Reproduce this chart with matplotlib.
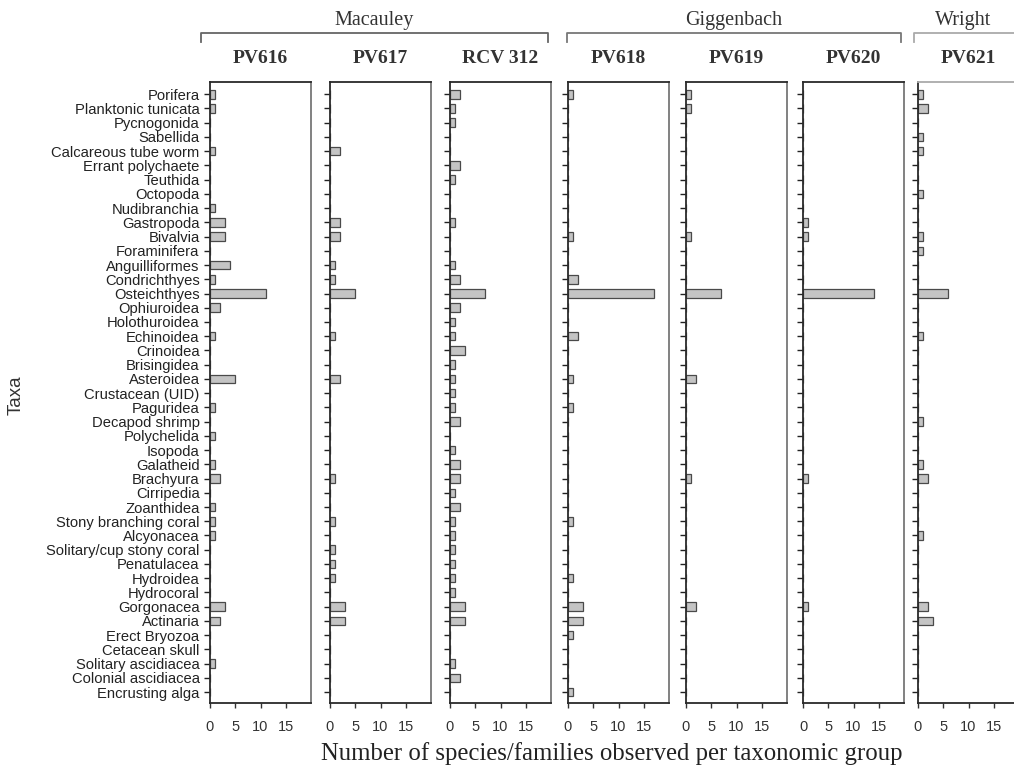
import numpy as np
import matplotlib
matplotlib.use('Agg')
import matplotlib.pyplot as plt
from matplotlib.lines import Line2D

taxa = ['Porifera', 'Planktonic tunicata', 'Pycnogonida', 'Sabellida',
        'Calcareous tube worm', 'Errant polychaete', 'Teuthida', 'Octopoda',
        'Nudibranchia', 'Gastropoda', 'Bivalvia', 'Foraminifera',
        'Anguilliformes', 'Condrichthyes', 'Osteichthyes', 'Ophiuroidea',
        'Holothuroidea', 'Echinoidea', 'Crinoidea', 'Brisingidea', 'Asteroidea',
        'Crustacean (UID)', 'Paguridea', 'Decapod shrimp', 'Polychelida',
        'Isopoda', 'Galatheid', 'Brachyura', 'Cirripedia', 'Zoanthidea',
        'Stony branching coral', 'Alcyonacea', 'Solitary/cup stony coral',
        'Penatulacea', 'Hydroidea', 'Hydrocoral', 'Gorgonacea', 'Actinaria',
        'Erect Bryozoa', 'Cetacean skull', 'Solitary ascidiacea',
        'Colonial ascidiacea', 'Encrusting alga']

#        Por Pla Pyc Sab Cal Err Teu Oct Nud Gas Biv For Ang Con Ost Oph Hol Ech Cri Bri Ast Cru Pag Dec Pol Iso Gal Bra Cir Zoa Sto Alc Sol Pen Hyd Hyc Gor Act Ere Cet SoA CoA Enc
pv616 = [1, 1, 0, 0, 1, 0, 0, 0, 1, 3, 3, 0, 4, 1, 11, 2, 0, 1, 0, 0, 5, 0, 1, 0, 1, 0, 1, 2, 0, 1, 1, 1, 0, 0, 0, 0, 3, 2, 0, 0, 1, 0, 0]
pv617 = [0, 0, 0, 0, 2, 0, 0, 0, 0, 2, 2, 0, 1, 1, 5, 0, 0, 1, 0, 0, 2, 0, 0, 0, 0, 0, 0, 1, 0, 0, 1, 0, 1, 1, 1, 0, 3, 3, 0, 0, 0, 0, 0]
rcv312 = [2, 1, 1, 0, 0, 2, 1, 0, 0, 1, 0, 0, 1, 2, 7, 2, 1, 1, 3, 1, 1, 1, 1, 2, 0, 1, 2, 2, 1, 2, 1, 1, 1, 1, 1, 1, 3, 3, 0, 0, 1, 2, 0]
pv618 = [1, 0, 0, 0, 0, 0, 0, 0, 0, 0, 1, 0, 0, 2, 17, 0, 0, 2, 0, 0, 1, 0, 1, 0, 0, 0, 0, 0, 0, 0, 1, 0, 0, 0, 1, 0, 3, 3, 1, 0, 0, 0, 1]
pv619 = [1, 1, 0, 0, 0, 0, 0, 0, 0, 0, 1, 0, 0, 0, 7, 0, 0, 0, 0, 0, 2, 0, 0, 0, 0, 0, 0, 1, 0, 0, 0, 0, 0, 0, 0, 0, 2, 0, 0, 0, 0, 0, 0]
pv620 = [0, 0, 0, 0, 0, 0, 0, 0, 0, 1, 1, 0, 0, 0, 14, 0, 0, 0, 0, 0, 0, 0, 0, 0, 0, 0, 0, 1, 0, 0, 0, 0, 0, 0, 0, 0, 1, 0, 0, 0, 0, 0, 0]
pv621 = [1, 2, 0, 1, 1, 0, 0, 1, 0, 0, 1, 1, 0, 0, 6, 0, 0, 1, 0, 0, 0, 0, 0, 1, 0, 0, 1, 2, 0, 0, 0, 1, 0, 0, 0, 0, 2, 3, 0, 0, 0, 0, 0]

sites = ['PV616', 'PV617', 'RCV 312', 'PV618', 'PV619', 'PV620', 'PV621']
counts = [pv616, pv617, rcv312, pv618, pv619, pv620, pv621]
regions = ['Macauley', 'Giggenbach', 'Wright']

W, H = 1014, 767
fig = plt.figure(figsize=(W / 100, H / 100), dpi=100)

serif = 'Liberation Serif'
sans = 'Liberation Sans'

lefts = [210, 330, 450, 568, 686, 803, 918]
pw = 101
top, bot = 82, 703
y = np.arange(len(taxa))

axes = []
for i, (site, vals) in enumerate(zip(sites, counts)):
    ax = fig.add_axes([lefts[i] / W, 1 - bot / H, pw / W, (bot - top) / H])
    ax.barh(y, vals, height=0.6, color='#c4c4c4', edgecolor='#4a4a4a', linewidth=0.9)
    ax.set_xlim(0, 20)
    ax.set_ylim(len(taxa) - 0.23, -0.86)
    ax.set_yticks(y)
    ax.set_xticks([0, 5, 10, 15])
    ax.set_xticklabels(['0', '5', '10', '15'], fontsize=10.5, family=sans, color='#333')
    if i == 0:
        ax.set_yticklabels(taxa, fontsize=10.6, family=sans, color='#222')
    else:
        ax.set_yticklabels([])
    ax.tick_params(axis='y', direction='out', length=4.5, width=1, color='#222', pad=3)
    ax.tick_params(axis='x', direction='out', length=3.5, width=1, color='#333', pad=9)
    for s in ax.spines.values():
        s.set_color('#2a2a2a')
        s.set_linewidth(1.3)
    ax.spines['right'].set_color('#777')
    if i == 6:
        ax.spines['top'].set_color('#aaa')
    ax.set_title(site, fontsize=14, family=serif, fontweight='bold', color='#333', pad=14)
    axes.append(ax)

fig.text(16 / W, 1 - 395 / H, 'Taxa', rotation=90, fontsize=13.5, family=sans,
         color='#333', ha='center', va='center')
fig.text(612 / W, 1 - 754 / H, 'Number of species/families observed per taxonomic group',
         fontsize=17.8, family=serif, color='#222', ha='center', va='center')

# region brackets
brackets = [(201, 548, '#666'), (567, 901, '#777'), (914, 1030, '#aaa')]
for (x0, x1, c), name in zip(brackets, regions):
    yb = 1 - 33 / H
    yt = 1 - 42 / H
    fig.add_artist(Line2D([x0 / W, x0 / W, x1 / W, x1 / W], [yt, yb, yb, yt],
                          color=c, linewidth=1.3))
    xc = (x0 + x1) / 2 if name != 'Wright' else 963
    fig.text(xc / W, 1 - 21 / H, name, fontsize=14.5, family=serif,
             color='#333', ha='center', va='center')

fig.savefig('out.png', dpi=100)
